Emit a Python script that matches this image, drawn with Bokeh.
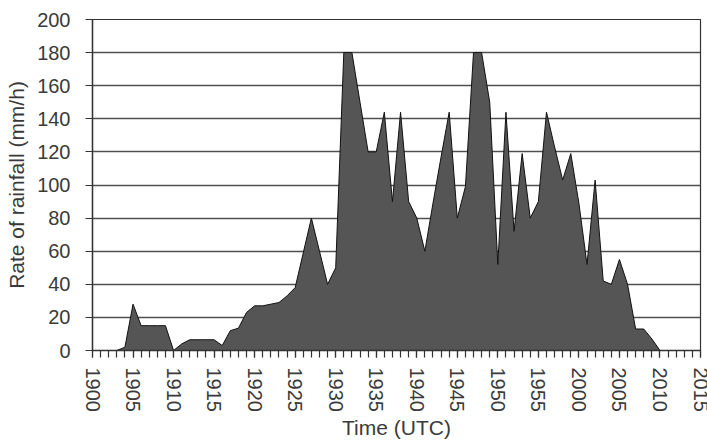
from bokeh.plotting import figure
from bokeh.models import Range1d, FixedTicker
from bokeh.embed import file_html
from bokeh.resources import INLINE

# minutes after 19:00 UTC
minutes = list(range(0, 76))
rain = [0, 0, 0, 0, 2, 28, 15, 15, 15, 15,
        0, 4, 6.5, 6.5, 6.5, 6.5, 3, 12, 13.5, 23,
        27, 27, 28, 29, 33, 38, 59, 80, 60, 40,
        50, 180, 180, 150, 120, 120, 144, 90, 144, 90,
        80, 60, 89, 117, 144, 80, 99, 180, 180, 150,
        52, 144, 72, 119, 80, 90, 144, 123, 103, 119,
        89, 52, 103, 42, 40, 55, 40, 13, 13, 7,
        0, 0, 0, 0, 0, 0]
tick_minutes = list(range(0, 76, 5))
tick_labels = ["1900", "1905", "1910", "1915", "1920", "1925", "1930", "1935",
               "1940", "1945", "1950", "1955", "2000", "2005", "2010", "2015"]
y_ticks = list(range(0, 201, 20))

FONT = "Liberation Sans"
TXT = "#3a3a3a"

p = figure(width=707, height=448, output_backend="svg", toolbar_location=None,
           x_range=Range1d(0, 75), y_range=Range1d(0, 200),
           min_border_left=92, min_border_right=7, min_border_top=19,
           min_border_bottom=98)

p.background_fill_color = "white"
p.border_fill_color = "white"
p.outline_line_color = "#333333"
p.outline_line_width = 1.2

p.xgrid.visible = False
p.ygrid.ticker = FixedTicker(ticks=y_ticks)
p.ygrid.grid_line_color = "#505050"
p.ygrid.grid_line_width = 1.6

p.varea(x=minutes, y1=[0] * len(minutes), y2=rain, fill_color="#555555")
p.line(x=minutes, y=rain, line_color="#111111", line_width=1)

xa = p.xaxis[0]
xa.ticker = FixedTicker(ticks=tick_minutes, minor_ticks=minutes)
xa.major_label_overrides = {m: l for m, l in zip(tick_minutes, tick_labels)}
xa.major_label_orientation = "vertical"
xa.major_tick_out = 7
xa.major_tick_in = 0
xa.minor_tick_out = 7
xa.minor_tick_in = 0
xa.major_label_standoff = 10
xa.axis_label = "Time (UTC)"
xa.axis_label_standoff = 1

ya = p.yaxis[0]
ya.ticker = FixedTicker(ticks=y_ticks)
ya.major_tick_out = 7
ya.major_tick_in = 0
ya.major_label_standoff = 15
ya.axis_label = "Rate of rainfall (mm/h)"
ya.axis_label_standoff = 6

for ax in (xa, ya):
    ax.axis_line_color = "#333333"
    ax.axis_line_width = 1.4
    ax.major_tick_line_color = "#333333"
    ax.minor_tick_line_color = "#333333" if ax is xa else None
    ax.major_tick_line_width = 1.2
    ax.minor_tick_line_width = 1.2
    ax.major_label_text_font = FONT
    ax.major_label_text_font_size = "20px"
    ax.major_label_text_color = TXT
    ax.axis_label_text_font = FONT
    ax.axis_label_text_font_size = "21px"
    ax.axis_label_text_font_style = "normal"
    ax.axis_label_text_color = TXT

open("out.html", "w").write(file_html(p, INLINE))
